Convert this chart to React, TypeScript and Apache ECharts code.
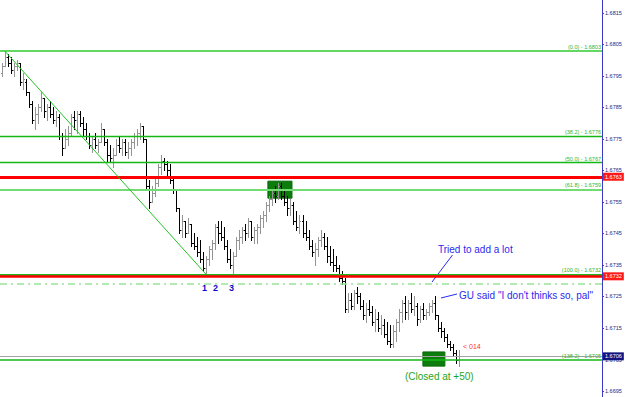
import React, { useEffect, useRef } from "react";
import * as echarts from "echarts";

// price axis tick labels
const priceTicks = [1.6695, 1.6705, 1.6715, 1.6725, 1.6735, 1.6745, 1.6755, 1.6765, 1.6775, 1.6785, 1.6795, 1.6805, 1.6815];

// OHLC bars: [open, high, low, close]
const bars: [number, number, number, number][] = [
  [1.6796, 1.6799, 1.6795, 1.6798], [1.6798, 1.6803, 1.6798, 1.6801], [1.6801, 1.6802, 1.6798, 1.6799], [1.6799, 1.6801, 1.6796, 1.6797],
  [1.6797, 1.6799, 1.6795, 1.6798], [1.6798, 1.68, 1.6797, 1.6799], [1.6799, 1.6799, 1.6792, 1.6793], [1.6793, 1.6796, 1.6791, 1.6794],
  [1.6793, 1.6794, 1.6789, 1.679], [1.679, 1.679, 1.6785, 1.6786], [1.6786, 1.6787, 1.678, 1.6781], [1.6781, 1.6785, 1.6778, 1.6783],
  [1.6783, 1.6786, 1.678, 1.6785], [1.6785, 1.679, 1.6784, 1.6788], [1.6788, 1.6788, 1.6782, 1.6784], [1.6784, 1.6786, 1.6781, 1.6785],
  [1.6785, 1.6787, 1.6782, 1.6783], [1.6783, 1.6785, 1.678, 1.6781], [1.6781, 1.6784, 1.6779, 1.6782], [1.6782, 1.6783, 1.6775, 1.6776],
  [1.6776, 1.6777, 1.677, 1.6772], [1.6772, 1.6778, 1.6772, 1.6775], [1.6775, 1.6779, 1.6773, 1.6777], [1.6777, 1.6783, 1.6776, 1.6782],
  [1.6782, 1.6784, 1.6778, 1.6781], [1.6781, 1.6784, 1.6777, 1.6783], [1.6783, 1.6784, 1.6779, 1.678], [1.678, 1.6782, 1.6776, 1.6778],
  [1.6778, 1.678, 1.6775, 1.6776], [1.6776, 1.6777, 1.6772, 1.6773], [1.6773, 1.6776, 1.6771, 1.6775], [1.6775, 1.6777, 1.6772, 1.6773],
  [1.6773, 1.6775, 1.6771, 1.6774], [1.6774, 1.678, 1.6774, 1.6778], [1.6778, 1.6778, 1.6773, 1.6774], [1.6774, 1.6775, 1.6768, 1.677],
  [1.677, 1.6773, 1.6768, 1.6769], [1.6769, 1.6772, 1.6766, 1.677], [1.677, 1.6775, 1.677, 1.6773], [1.6773, 1.6776, 1.6771, 1.6772],
  [1.6772, 1.6775, 1.677, 1.6774], [1.6774, 1.6775, 1.677, 1.6771], [1.6771, 1.6774, 1.6769, 1.6772], [1.6772, 1.6775, 1.677, 1.6774],
  [1.6774, 1.6777, 1.6772, 1.6776], [1.6776, 1.6778, 1.6773, 1.6777], [1.6777, 1.678, 1.6775, 1.6779], [1.6779, 1.6779, 1.6774, 1.6775],
  [1.6775, 1.6775, 1.6759, 1.676], [1.676, 1.6762, 1.6753, 1.6755], [1.6755, 1.676, 1.6755, 1.6758], [1.6758, 1.6763, 1.6757, 1.6761],
  [1.6761, 1.6767, 1.676, 1.6766], [1.6766, 1.677, 1.6764, 1.6768], [1.6768, 1.6769, 1.6765, 1.6767], [1.6767, 1.6768, 1.6763, 1.6765],
  [1.6765, 1.6767, 1.6761, 1.6762], [1.6762, 1.6763, 1.6758, 1.6759], [1.6759, 1.6759, 1.6752, 1.6753], [1.6753, 1.6753, 1.6745, 1.6746],
  [1.6746, 1.6751, 1.6744, 1.6749], [1.6749, 1.6749, 1.6744, 1.6745], [1.6745, 1.675, 1.6745, 1.6748], [1.6748, 1.6748, 1.6741, 1.6742],
  [1.6742, 1.6745, 1.674, 1.6741], [1.6741, 1.6744, 1.6738, 1.6739], [1.6739, 1.6743, 1.6736, 1.6737], [1.6737, 1.6739, 1.6733, 1.6734],
  [1.6734, 1.6738, 1.6732, 1.6737], [1.6737, 1.6741, 1.6735, 1.674], [1.674, 1.6743, 1.6737, 1.6742], [1.6742, 1.6748, 1.674, 1.6747],
  [1.6747, 1.6749, 1.6742, 1.6745], [1.6745, 1.6749, 1.6743, 1.6744], [1.6744, 1.6747, 1.674, 1.6741], [1.6741, 1.6743, 1.6736, 1.6737],
  [1.6737, 1.674, 1.6734, 1.6735], [1.6735, 1.6739, 1.6732, 1.6738], [1.6738, 1.6744, 1.6738, 1.6743], [1.6743, 1.6746, 1.674, 1.6744],
  [1.6744, 1.6747, 1.6742, 1.6746], [1.6746, 1.6748, 1.6743, 1.6745], [1.6745, 1.675, 1.6744, 1.6749], [1.6749, 1.6749, 1.6743, 1.6744],
  [1.6744, 1.6747, 1.6742, 1.6746], [1.6746, 1.6748, 1.6742, 1.6747], [1.6747, 1.6751, 1.6745, 1.675], [1.675, 1.6752, 1.6747, 1.6751],
  [1.6751, 1.6755, 1.6749, 1.6754], [1.6754, 1.6757, 1.6752, 1.6756], [1.6756, 1.6759, 1.6754, 1.6758], [1.6758, 1.676, 1.6755, 1.6757],
  [1.6757, 1.6761, 1.6756, 1.676], [1.676, 1.6761, 1.6756, 1.6757], [1.6757, 1.6759, 1.6754, 1.6755], [1.6755, 1.6757, 1.6751, 1.6753],
  [1.6753, 1.6756, 1.6751, 1.6754], [1.6754, 1.6755, 1.6748, 1.6749], [1.6749, 1.6752, 1.6746, 1.6747], [1.6747, 1.6751, 1.6745, 1.6749],
  [1.6749, 1.6751, 1.6744, 1.6745], [1.6745, 1.6749, 1.6743, 1.6744], [1.6744, 1.6746, 1.674, 1.6741], [1.6741, 1.6743, 1.6738, 1.6739],
  [1.6739, 1.6742, 1.6735, 1.674], [1.674, 1.6744, 1.6738, 1.6743], [1.6743, 1.6746, 1.6741, 1.6744], [1.6744, 1.6745, 1.674, 1.6741],
  [1.6741, 1.6744, 1.6736, 1.6738], [1.6738, 1.6741, 1.6735, 1.6736], [1.6736, 1.674, 1.6733, 1.6735], [1.6735, 1.6738, 1.6733, 1.6734],
  [1.6734, 1.6735, 1.673, 1.6731], [1.6731, 1.6733, 1.6729, 1.673], [1.673, 1.6731, 1.672, 1.6721], [1.6721, 1.6726, 1.672, 1.6724],
  [1.6724, 1.6726, 1.6721, 1.6722], [1.6722, 1.6727, 1.6721, 1.6726], [1.6726, 1.6728, 1.6723, 1.6725], [1.6725, 1.6726, 1.6721, 1.6722],
  [1.6722, 1.6724, 1.6718, 1.6719], [1.6719, 1.6723, 1.6717, 1.6721], [1.6721, 1.6724, 1.6719, 1.672], [1.672, 1.6722, 1.6716, 1.6717],
  [1.6717, 1.6721, 1.6714, 1.6718], [1.6718, 1.672, 1.6714, 1.6715], [1.6715, 1.6719, 1.6713, 1.6716], [1.6716, 1.6718, 1.6712, 1.6713],
  [1.6713, 1.6717, 1.671, 1.6711], [1.6711, 1.6716, 1.6709, 1.671], [1.671, 1.6716, 1.6709, 1.6714], [1.6714, 1.6718, 1.6711, 1.6717],
  [1.6717, 1.6721, 1.6714, 1.672], [1.672, 1.6724, 1.6717, 1.6723], [1.6723, 1.6725, 1.6718, 1.672], [1.672, 1.6724, 1.6718, 1.6723],
  [1.6723, 1.6726, 1.672, 1.6721], [1.6721, 1.6725, 1.6719, 1.6722], [1.6722, 1.6723, 1.6716, 1.6718], [1.6718, 1.6722, 1.6717, 1.6721],
  [1.6721, 1.6723, 1.6718, 1.6719], [1.6719, 1.6721, 1.6718, 1.672], [1.672, 1.6723, 1.6719, 1.6722], [1.6722, 1.6724, 1.672, 1.6723],
  [1.6723, 1.6725, 1.6718, 1.6719], [1.6719, 1.6719, 1.6714, 1.6715], [1.6715, 1.6717, 1.6712, 1.6714], [1.6714, 1.6715, 1.6711, 1.6712],
  [1.6712, 1.6713, 1.6709, 1.671], [1.671, 1.6711, 1.6708, 1.6709], [1.6709, 1.671, 1.6706, 1.6707], [1.6707, 1.6708, 1.6704, 1.6705],
  [1.6705, 1.6708, 1.6703, 1.6706],
];

// Fibonacci retracement levels
const fibLabels = ["(0.0) - 1.6803", "(38.2) - 1.6776", "(50.0) - 1.6767", "(61.8) - 1.6759", "(100.0) - 1.6732", "(138.2) - 1.6705"];
const fibValues = [1.6803, 1.6776, 1.67675, 1.6759, 1.6732, 1.6705];
const fibColors = ["#63d963", "#14b814", "#14b814", "#72dc72", "#1fb81f", "#14b814"];
const fibWidths = [2, 1.4, 1.4, 2, 2, 1.6];

// horizontal price lines
const redLineValues = [1.6763, 1.67314];
const redLineTags = ["1.6763", "1.6732"];
const dashLevel = 1.6729;
const bidValue = 1.6706;
const bidTag = "1.6706";

// trend line anchors [barIndex, price]
const trendStart: [number, number] = [1, 1.6803];
const trendEnd: [number, number] = [68, 1.6732];

// highlighted boxes [[x1, y1], [x2, y2]]
const boxes: [number, number][][] = [
  [[88.5, 1.67616], [96.5, 1.67562]],
  [[140, 1.67074], [147.3, 1.67029]],
];

const X_MIN = -0.5;
const X_MAX = 199.5;
const Y_MIN = 1.66931;
const Y_MAX = 1.68191;
const FONT = "'Liberation Sans', Arial, sans-serif";

export default function App() {
  const ref = useRef<HTMLDivElement>(null);
  useEffect(() => {
    if (!ref.current) return;
    const chart = echarts.init(ref.current, null, { renderer: "svg" });

    const hLine = (v: number, lineStyle: any, label: any) => [
      { coord: [X_MIN, v], lineStyle, label },
      { coord: [X_MAX, v] },
    ];

    const fibMarks = fibValues.map((v, i) =>
      hLine(
        v,
        { color: fibColors[i], width: fibWidths[i], type: "solid" },
        {
          show: true,
          position: "insideEndTop",
          formatter: fibLabels[i],
          color: "#2fb52f",
          fontSize: 5.5,
          fontFamily: FONT,
          distance: [1, 1],
        }
      )
    );
    const tagLabel = (text: string, bg: string) => ({
      show: true,
      position: "end",
      formatter: text,
      color: "#ffffff",
      backgroundColor: bg,
      fontSize: 5.5,
      fontFamily: FONT,
      padding: [1, 2, 1, 2],
      distance: 1,
    });
    const redMarks = redLineValues.map((v, i) =>
      hLine(v, { color: "#ff0000", width: i === 0 ? 3 : 2.5, type: "solid" }, tagLabel(redLineTags[i], "#ff1a1a"))
    );

    chart.setOption({
      animation: false,
      backgroundColor: "#ffffff",
      grid: { left: 0, right: 23, top: 0, bottom: 0 },
      xAxis: { type: "value", min: X_MIN, max: X_MAX, show: false },
      yAxis: {
        type: "value",
        position: "right",
        min: Y_MIN,
        max: Y_MAX,
        splitLine: { show: false },
        axisLine: { show: true, onZero: false, lineStyle: { color: "#3b3bc4", width: 1 } },
        axisTick: { show: true, customValues: priceTicks, length: 2, lineStyle: { color: "#3b3bc4" } },
        axisLabel: {
          customValues: priceTicks,
          formatter: (v: number) => v.toFixed(4),
          fontSize: 5.5,
          fontFamily: FONT,
          color: "#1e1e86",
          margin: 3,
        },
      },
      series: [
        {
          type: "line",
          data: [],
          z: 1,
          silent: true,
          markArea: {
            silent: true,
            itemStyle: { color: "#0c7c0c", borderColor: "#0a6a0a", borderWidth: 1, opacity: 1 },
            data: boxes.map((b) => [{ coord: b[0] }, { coord: b[1] }]),
          },
        },
        {
          type: "custom",
          z: 2,
          silent: true,
          encode: { x: 0, y: [1, 2, 3, 4] },
          data: bars.map((b, i) => [i, b[0], b[1], b[2], b[3]]),
          renderItem: (params: any, api: any) => {
            const x = api.value(0);
            const o = api.value(1);
            const h = api.value(2);
            const l = api.value(3);
            const c = api.value(4);
            const ph = api.coord([x, h]);
            const pl = api.coord([x, l]);
            const po = api.coord([x, o]);
            const pc = api.coord([x, c]);
            const cx = Math.round(ph[0]) + 0.5;
            const color = c > o ? "#949494" : "#000000";
            const yo = Math.round(po[1]) + 0.5;
            const yc = Math.round(pc[1]) + 0.5;
            return {
              type: "group",
              children: [
                { type: "line", shape: { x1: cx, y1: Math.round(ph[1]), x2: cx, y2: Math.round(pl[1]) + 1 }, style: { stroke: color, lineWidth: 1 } },
                { type: "line", shape: { x1: cx - 1.5, y1: yo, x2: cx, y2: yo }, style: { stroke: color, lineWidth: 1 } },
                { type: "line", shape: { x1: cx, y1: yc, x2: cx + 1.5, y2: yc }, style: { stroke: color, lineWidth: 1 } },
              ],
            };
          },
        },
        {
          type: "line",
          data: [],
          z: 3,
          silent: true,
          markLine: {
            silent: true,
            symbol: ["none", "none"],
            data: [
              ...fibMarks,
              ...redMarks,
              hLine(dashLevel, { color: "#9be39b", width: 1.5, type: [7, 4, 2, 4] }, { show: false }),
              hLine(bidValue, { color: "#a3a3a3", width: 1, type: "solid" }, tagLabel(bidTag, "#14147e")),
              [
                { coord: trendStart, lineStyle: { color: "#22c422", width: 1, type: "solid" }, label: { show: false } },
                { coord: trendEnd },
              ],
            ],
          },
        },
      ],
      graphic: [
        { type: "text", x: 438, y: 249, style: { text: "Tried to add a lot", fill: "#2a2aee", font: `10px ${FONT}`, textVerticalAlign: "middle" } },
        { type: "line", shape: { x1: 452.5, y1: 255, x2: 432, y2: 282 }, style: { stroke: "#2a2aee", lineWidth: 1 } },
        { type: "text", x: 459, y: 295.5, style: { text: 'GU said "I don\'t thinks so, pal"', fill: "#2a2aee", font: `10px ${FONT}`, textVerticalAlign: "middle" } },
        { type: "line", shape: { x1: 441, y1: 298, x2: 457, y2: 294 }, style: { stroke: "#2a2aee", lineWidth: 1 } },
        { type: "text", x: 463, y: 346, style: { text: "< 014", fill: "#ff3030", font: `7px ${FONT}`, textVerticalAlign: "middle" } },
        { type: "text", x: 405, y: 376.5, style: { text: "(Closed at +50)", fill: "#1ea51e", font: `10px ${FONT}`, textVerticalAlign: "middle" } },
        { type: "text", x: 204.5, y: 288, style: { text: "1", fill: "#0a0ad0", font: `bold 9px ${FONT}`, textAlign: "center", textVerticalAlign: "middle" } },
        { type: "text", x: 215.5, y: 288, style: { text: "2", fill: "#0a0ad0", font: `bold 9px ${FONT}`, textAlign: "center", textVerticalAlign: "middle" } },
        { type: "text", x: 231.5, y: 288, style: { text: "3", fill: "#0a0ad0", font: `bold 9px ${FONT}`, textAlign: "center", textVerticalAlign: "middle" } },
      ],
    });
    return () => chart.dispose();
  }, []);
  return <div ref={ref} style={{ position: "fixed", left: 0, top: 0, width: 625, height: 397, background: "#fff" }} />;
}
